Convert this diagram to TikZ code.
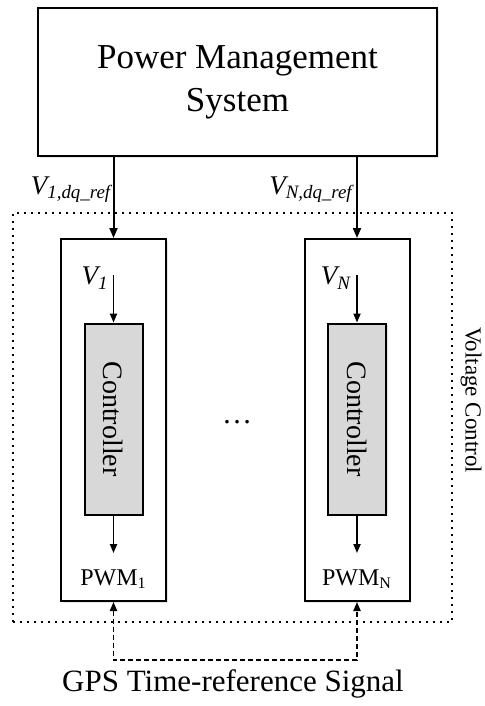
\documentclass[tikz,border=0pt]{standalone}
\usepackage{fontspec}
\setmainfont{Liberation Serif}
\usetikzlibrary{arrows.meta,positioning,shadows}
\definecolor{ctlgray}{HTML}{D8D8D8}
\definecolor{shadegray}{HTML}{9A9A9A}
\tikzset{
  softshadow/.style={drop shadow={shadow xshift=0.8pt,shadow yshift=-0.8pt,opacity=0.25,fill=shadegray}},
  pmsbox/.style={rectangle,draw,fill=white,line width=1pt,minimum width=199.5pt,minimum height=74pt,
    align=center,font=\fontsize{17.5}{21.5}\selectfont,softshadow},
  unitbox/.style={rectangle,draw,fill=white,line width=1pt,minimum width=52.5pt,minimum height=181pt,softshadow},
  ctlbox/.style={rectangle,draw,fill=ctlgray,line width=1pt,minimum width=29pt,minimum height=95.5pt,
    inner sep=0pt,font=\fontsize{14}{16}\selectfont,softshadow},
  vcframe/.style={rectangle,draw,line width=1pt,dash pattern=on 1pt off 2.5pt,
    minimum width=219.5pt,minimum height=204.5pt},
  lbl/.style={inner sep=0pt,font=\fontsize{13.5}{15}\selectfont\itshape},
  pwmlbl/.style={anchor=north,inner xsep=0pt,inner ysep=8pt,font=\fontsize{12}{14}\selectfont},
  sig/.style={-{Triangle[length=5pt,width=4pt]},line width=1pt},
  insig/.style={-{Triangle[length=4.5pt,width=3.6pt]},line width=0.75pt},
  gpsline/.style={{Triangle[length=4.5pt,width=3.6pt]}-{Triangle[length=4.5pt,width=3.6pt]},
    line width=0.8pt,dash pattern=on 2.5pt off 1.5pt},
}
\begin{document}
\begin{tikzpicture}[x=0.5pt,y=-0.5pt]
  \useasboundingbox (0,0) rectangle (484,706);
  % dotted voltage control frame
  \node[vcframe] (vc) at (232.5,417.5) {};
  \node[font=\fontsize{11.5}{13}\selectfont,rotate=-90] (vclbl) at (471,400) {Voltage Control};
  % top level
  \node[pmsbox] (pms) at (237.5,82) {Power Management\\System};
  % converter units
  \node[unitbox] (unit1) at (113.5,420) {};
  \node[unitbox] (unitN) at (357,420) {};
  \node[ctlbox] (ctl1) at (113.5,419) {\rotatebox{-90}{Controller}};
  \node[ctlbox] (ctlN) at (357,419) {\rotatebox{-90}{Controller}};
  \node[font=\fontsize{15}{17}\selectfont,anchor=base] (dots) at (237,423) {…};
  % reference signals
  \draw[sig] (pms.south -| unit1) -- (unit1.north);
  \draw[sig] (pms.south -| unitN) -- (unitN.north);
  \node[lbl] (vref1) at (71,190) {V\textsubscript{1,dq\_ref}};
  \node[lbl] (vrefN) at (311,190) {V\textsubscript{N,dq\_ref}};
  \node[lbl] (v1) at (95,278) {V\textsubscript{1}};
  \node[lbl] (vN) at (336,278) {V\textsubscript{N}};
  \coordinate (in1) at (113.5,275);
  \coordinate (inN) at (357,275);
  \draw[insig] (in1) -- (ctl1.north);
  \draw[insig] (inN) -- (ctlN.north);
  % pwm outputs
  \node[pwmlbl] (pwm1) at (113.5,553) {PWM\textsubscript{1}};
  \node[pwmlbl] (pwmN) at (357,553) {PWM\textsubscript{N}};
  \draw[insig] (ctl1.south) -- (pwm1.north);
  \draw[insig] (ctlN.south) -- (pwmN.north);
  % gps synchronisation
  \coordinate (gpsmid) at (235,660);
  \draw[gpsline] (unit1.south) |- (gpsmid) -| (unitN.south);
  \node[font=\fontsize{15.5}{17}\selectfont] (gps) at (233,684) {GPS Time-reference Signal};
\end{tikzpicture}
\end{document}
